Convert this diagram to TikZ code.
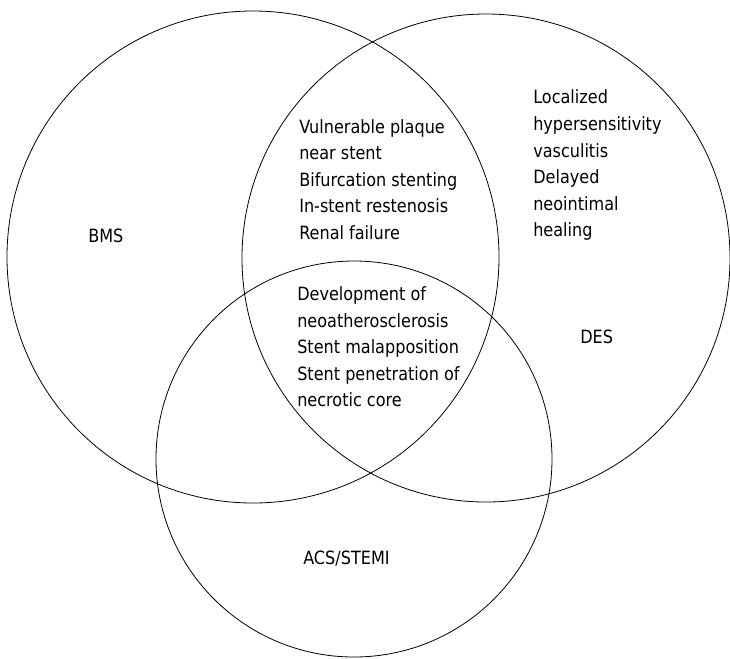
\documentclass[tikz,border=0pt]{standalone}
\usepackage{fontspec}
\setmainfont{DejaVu Sans}[FakeStretch=0.88]
\usepackage{tikz}
\usetikzlibrary{positioning}
\tikzset{
    % circles of the diagram
    ring/.style={
           draw,
           line width=0.6pt,
           },
    % texts inside the circles (placed at the baseline of their last line)
    lab/.style={
           anchor=base west,
           align=left,
           inner sep=0pt,
           font=\fontsize{13.7}{19.9}\selectfont,
           },
}
\begin{document}
\begin{tikzpicture}[x=0.75pt,y=-0.75pt]
  	\useasboundingbox (0,0) rectangle (730,658);
  	\coordinate (bms) at (253,257);
  	\coordinate (des) at (486,258);
  	\coordinate (acs) at (354,459);
  	\draw [ring] (bms) circle [radius=246];
  	\draw [ring] (des) circle [radius=244];
  	\draw [ring] (acs) circle [radius=198];
  	\node (a) at (88,242) [lab] {BMS};
  	\node (b) at (580,343) [lab] {DES};
  	\node (c) at (303,564) [lab] {ACS/STEMI};
  	\node (d) at (299,239.4) [lab] {Vulnerable plaque\\near stent\\Bifurcation stenting\\In-stent restenosis\\Renal failure};
  	\node (e) at (533,236.6) [lab] {Localized\\hypersensitivity\\vasculitis\\Delayed\\neointimal\\healing};
  	\node (f) at (297,406.8) [lab] {Development of\\neoatherosclerosis\\Stent malapposition\\Stent penetration of\\necrotic core};
\end{tikzpicture}
\end{document}
